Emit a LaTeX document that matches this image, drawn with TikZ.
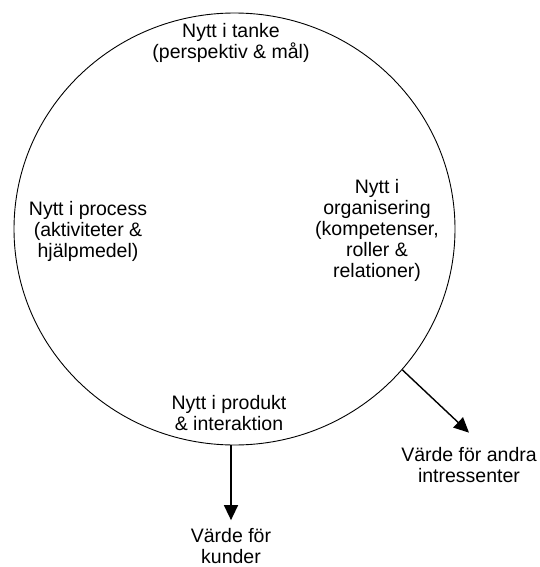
\documentclass[tikz,border=0pt]{standalone}
\usepackage{fontspec}
\setmainfont{Liberation Sans}
\usetikzlibrary{arrows.meta,positioning,shapes.geometric}

\begin{document}
\begin{tikzpicture}[x=1pt, y=-1pt,
        txt/.style={align=center, inner sep=0pt, font=\fontsize{19.5}{21}\selectfont},
        pil/.style={-{Triangle[length=15pt, width=14pt]}, line width=1.4pt}]
        \useasboundingbox (0,0) rectangle (540,567);

        \node[draw, ellipse, line width=0.9pt, inner sep=0pt, minimum width=441pt, minimum height=432pt] (ring) at (234.5,229) {};

        \node[txt] (tanke) at (231,42.5) {Nytt i tanke\\(perspektiv \& mål)};
        \node[txt] (process) at (88,231) {Nytt i process\\(aktiviteter \&\\hjälpmedel)};
        \node[txt] (org) at (377,230.5) {Nytt i\\organisering\\(kompetenser,\\roller \&\\relationer)};
        \node[txt] (produkt) at (229,413.5) {Nytt i produkt\\\& interaktion};

        \node[txt] (kund) at (231,546) {Värde för\\kunder};
        \node[txt] (andra) at (469,465.5) {Värde för andra\\intressenter};

        % varde ut ur ringen
        \draw[pil] (ring.south -| kund) -- ([yshift=8pt]kund.north);
        \draw[pil] (ring.-40) -- ([yshift=15pt]andra.north);
\end{tikzpicture}
\end{document}
